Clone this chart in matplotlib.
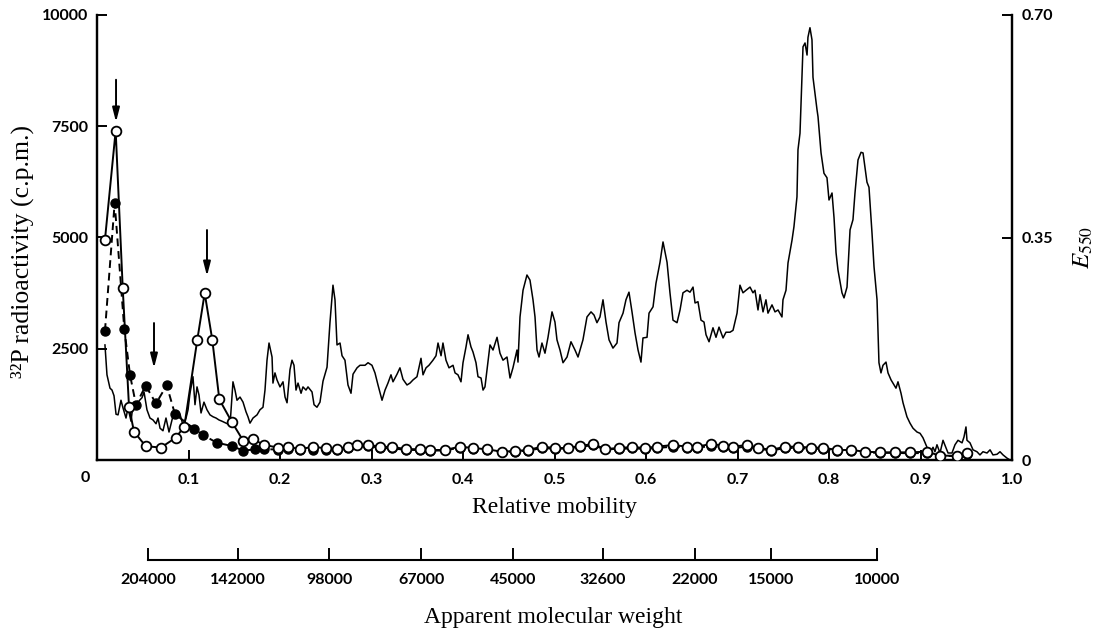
"""Gel scan: 32P radioactivity per slice (open / filled circles) with E550 densitometer trace."""

import matplotlib

matplotlib.use("Agg")
import matplotlib.pyplot as plt
import numpy as np

plt.rcParams["mathtext.fontset"] = "stix"

# --- open circles, solid line (c.p.m.)
mobility_open = [
    0.0087, 0.0204, 0.0281, 0.0350, 0.0404, 0.0532, 0.0699, 0.0860, 0.0954, 0.1096,
    0.1177, 0.1260, 0.1337, 0.1472, 0.1599, 0.1702, 0.1825, 0.1975, 0.2091, 0.2219,
    0.2361, 0.2503, 0.2623, 0.2743, 0.2842, 0.2962, 0.3093, 0.3224, 0.3377, 0.3530,
    0.3639, 0.3803, 0.3967, 0.4109, 0.4262, 0.4426, 0.4568, 0.4710, 0.4863, 0.5005,
    0.5148, 0.5279, 0.5421, 0.5552, 0.5705, 0.5847, 0.5989, 0.6120, 0.6295, 0.6448,
    0.6557, 0.6710, 0.6842, 0.6951, 0.7104, 0.7224, 0.7366, 0.7519, 0.7661, 0.7803,
    0.7934, 0.8087, 0.8240, 0.8393, 0.8557, 0.8721, 0.8885, 0.9071, 0.9213, 0.9399,
    0.9508,
]
cpm_open = [
    4950, 7400, 3870, 1190, 640, 310, 280, 500, 750, 2700,
    3750, 2700, 1360, 860, 430, 470, 340, 280, 300, 240,
    300, 260, 240, 292, 337, 337, 300, 292, 247, 240,
    225, 225, 300, 270, 240, 187, 202, 225, 300, 270,
    270, 315, 360, 247, 270, 292, 270, 300, 337, 300,
    300, 360, 322, 300, 337, 277, 225, 300, 300, 277,
    277, 225, 225, 187, 172, 172, 172, 187, 97, 97,
    150,
]

# --- filled circles, dashed line (c.p.m.)
mobility_filled = [
    0.0087, 0.0193, 0.0298, 0.0361, 0.0426, 0.0532, 0.0645, 0.0762, 0.0852, 0.1063,
    0.1160, 0.1308, 0.1472, 0.1599, 0.1727, 0.1825, 0.1975, 0.2091, 0.2219, 0.2361,
    0.2503, 0.2623, 0.2743, 0.2842, 0.2962, 0.3093, 0.3224, 0.3377, 0.3530, 0.3639,
    0.3803, 0.3967, 0.4109, 0.4262, 0.4426, 0.4568, 0.4710, 0.4863, 0.5005, 0.5148,
    0.5279, 0.5421, 0.5552, 0.5705, 0.5847, 0.5989, 0.6120, 0.6295, 0.6448, 0.6557,
    0.6710, 0.6842, 0.6951, 0.7104, 0.7224, 0.7366, 0.7519, 0.7661, 0.7803, 0.7934,
    0.8087, 0.8240, 0.8393, 0.8557, 0.8721, 0.8885, 0.9071, 0.9213, 0.9399, 0.9508,
]
cpm_filled = [
    2900, 5780, 2950, 1910, 1240, 1670, 1270, 1680, 1030, 700,
    560, 390, 315, 210, 240, 250, 230, 240, 220, 230,
    230, 220, 260, 330, 320, 270, 260, 230, 220, 210,
    215, 280, 250, 225, 180, 190, 210, 270, 250, 260,
    300, 330, 240, 250, 260, 250, 270, 300, 280, 280,
    310, 290, 270, 300, 260, 210, 270, 270, 250, 250,
    210, 210, 170, 160, 160, 150, 160, 90, 90, 130,
]

# --- E550 densitometer trace (right axis)
trace_mobility = [
    0.0087, 0.0109, 0.0142, 0.0164, 0.0186, 0.0208, 0.0230, 0.0262, 0.0284, 0.0317,
    0.0339, 0.0372, 0.0393, 0.0426, 0.0459, 0.0492, 0.0514, 0.0546, 0.0579, 0.0612,
    0.0645, 0.0667, 0.0689, 0.0721, 0.0754, 0.0787, 0.0820, 0.0842, 0.0874, 0.0907,
    0.0940, 0.0973, 0.0995, 0.1016, 0.1049, 0.1071, 0.1093, 0.1115, 0.1137, 0.1169,
    0.1202, 0.1235, 0.1268, 0.1301, 0.1333, 0.1366, 0.1410, 0.1454, 0.1486, 0.1508,
    0.1530, 0.1563, 0.1596, 0.1628, 0.1650, 0.1672, 0.1705, 0.1749, 0.1781, 0.1814,
    0.1836, 0.1858, 0.1880, 0.1913, 0.1923, 0.1945, 0.1967, 0.2000, 0.2033, 0.2055,
    0.2077, 0.2109, 0.2131, 0.2153, 0.2175, 0.2197, 0.2230, 0.2251, 0.2284, 0.2306,
    0.2350, 0.2372, 0.2404, 0.2437, 0.2470, 0.2514, 0.2546, 0.2579, 0.2601, 0.2623,
    0.2656, 0.2678, 0.2710, 0.2743, 0.2776, 0.2798, 0.2842, 0.2874, 0.2929, 0.2962,
    0.3005, 0.3038, 0.3071, 0.3115, 0.3148, 0.3180, 0.3213, 0.3235, 0.3279, 0.3311,
    0.3344, 0.3388, 0.3421, 0.3454, 0.3497, 0.3541, 0.3563, 0.3596, 0.3628, 0.3672,
    0.3705, 0.3727, 0.3760, 0.3781, 0.3814, 0.3847, 0.3891, 0.3913, 0.3945, 0.3978,
    0.4000, 0.4033, 0.4055, 0.4087, 0.4109, 0.4142, 0.4164, 0.4197, 0.4219, 0.4240,
    0.4262, 0.4295, 0.4328, 0.4372, 0.4404, 0.4437, 0.4481, 0.4514, 0.4546, 0.4590,
    0.4601, 0.4623, 0.4656, 0.4699, 0.4732, 0.4765, 0.4787, 0.4809, 0.4831, 0.4863,
    0.4896, 0.4929, 0.4973, 0.5005, 0.5027, 0.5060, 0.5093, 0.5137, 0.5180, 0.5224,
    0.5257, 0.5311, 0.5355, 0.5399, 0.5432, 0.5464, 0.5497, 0.5530, 0.5563, 0.5596,
    0.5639, 0.5683, 0.5705, 0.5749, 0.5781, 0.5814, 0.5847, 0.5880, 0.5913, 0.5945,
    0.5967, 0.6011, 0.6033, 0.6077, 0.6109, 0.6153, 0.6186, 0.6230, 0.6262, 0.6295,
    0.6339, 0.6372, 0.6404, 0.6448, 0.6481, 0.6514, 0.6536, 0.6568, 0.6601, 0.6634,
    0.6656, 0.6689, 0.6732, 0.6765, 0.6798, 0.6842, 0.6874, 0.6918, 0.6951, 0.6995,
    0.7027, 0.7060, 0.7093, 0.7137, 0.7169, 0.7191, 0.7224, 0.7246, 0.7279, 0.7311,
    0.7333, 0.7377, 0.7410, 0.7443, 0.7486, 0.7497, 0.7530, 0.7552, 0.7596, 0.7617,
    0.7650, 0.7661, 0.7683, 0.7716, 0.7738, 0.7760, 0.7770, 0.7792, 0.7814, 0.7825,
    0.7869, 0.7880, 0.7913, 0.7945, 0.7978, 0.8000, 0.8033, 0.8055, 0.8077, 0.8098,
    0.8142, 0.8164, 0.8197, 0.8230, 0.8262, 0.8284, 0.8317, 0.8350, 0.8372, 0.8415,
    0.8437, 0.8470, 0.8492, 0.8525, 0.8546, 0.8568, 0.8590, 0.8623, 0.8645, 0.8678,
    0.8699, 0.8732, 0.8754, 0.8787, 0.8809, 0.8852, 0.8885, 0.8918, 0.8962, 0.8995,
    0.9027, 0.9071, 0.9104, 0.9137, 0.9158, 0.9180, 0.9213, 0.9246, 0.9279, 0.9301,
    0.9344, 0.9377, 0.9410, 0.9454, 0.9475, 0.9497, 0.9508, 0.9541, 0.9574, 0.9617,
    0.9650, 0.9683, 0.9727, 0.9760, 0.9792, 0.9836, 0.9869, 0.9902, 0.9945, 0.9978,
]
trace_e550 = [
    0.181, 0.134, 0.113, 0.110, 0.101, 0.072, 0.071, 0.094, 0.082, 0.066,
    0.082, 0.061, 0.087, 0.082, 0.093, 0.098, 0.107, 0.079, 0.066, 0.063,
    0.057, 0.066, 0.050, 0.046, 0.066, 0.044, 0.063, 0.076, 0.066, 0.072,
    0.055, 0.066, 0.079, 0.105, 0.131, 0.087, 0.115, 0.102, 0.074, 0.091,
    0.079, 0.071, 0.068, 0.066, 0.063, 0.061, 0.058, 0.055, 0.123, 0.110,
    0.094, 0.099, 0.091, 0.076, 0.068, 0.058, 0.066, 0.071, 0.079, 0.083,
    0.110, 0.157, 0.184, 0.162, 0.121, 0.137, 0.126, 0.115, 0.123, 0.099,
    0.090, 0.142, 0.157, 0.149, 0.110, 0.121, 0.105, 0.115, 0.110, 0.115,
    0.107, 0.087, 0.083, 0.091, 0.124, 0.146, 0.216, 0.275, 0.252, 0.181,
    0.184, 0.164, 0.157, 0.118, 0.105, 0.135, 0.145, 0.149, 0.149, 0.153,
    0.149, 0.137, 0.118, 0.094, 0.110, 0.121, 0.134, 0.123, 0.135, 0.145,
    0.127, 0.118, 0.121, 0.126, 0.131, 0.160, 0.134, 0.145, 0.149, 0.157,
    0.164, 0.184, 0.164, 0.184, 0.157, 0.145, 0.149, 0.137, 0.134, 0.123,
    0.153, 0.178, 0.197, 0.178, 0.170, 0.153, 0.131, 0.129, 0.110, 0.115,
    0.142, 0.181, 0.173, 0.193, 0.168, 0.157, 0.162, 0.129, 0.145, 0.173,
    0.154, 0.225, 0.267, 0.291, 0.283, 0.252, 0.225, 0.173, 0.162, 0.184,
    0.168, 0.193, 0.233, 0.217, 0.189, 0.173, 0.153, 0.162, 0.186, 0.173,
    0.162, 0.189, 0.225, 0.233, 0.228, 0.216, 0.225, 0.252, 0.217, 0.189,
    0.176, 0.184, 0.216, 0.231, 0.252, 0.264, 0.233, 0.200, 0.173, 0.154,
    0.192, 0.193, 0.231, 0.241, 0.278, 0.311, 0.343, 0.311, 0.263, 0.220,
    0.216, 0.236, 0.263, 0.267, 0.264, 0.272, 0.247, 0.249, 0.220, 0.217,
    0.197, 0.186, 0.208, 0.193, 0.209, 0.192, 0.201, 0.201, 0.204, 0.231,
    0.275, 0.263, 0.267, 0.272, 0.263, 0.267, 0.236, 0.260, 0.233, 0.252,
    0.231, 0.244, 0.233, 0.236, 0.225, 0.252, 0.267, 0.310, 0.346, 0.367,
    0.414, 0.488, 0.514, 0.650, 0.656, 0.637, 0.665, 0.680, 0.661, 0.602,
    0.551, 0.540, 0.483, 0.451, 0.444, 0.409, 0.420, 0.381, 0.326, 0.299,
    0.263, 0.255, 0.272, 0.362, 0.378, 0.420, 0.472, 0.484, 0.483, 0.437,
    0.429, 0.357, 0.304, 0.252, 0.153, 0.137, 0.149, 0.154, 0.137, 0.126,
    0.121, 0.113, 0.123, 0.105, 0.090, 0.068, 0.058, 0.050, 0.044, 0.042,
    0.035, 0.020, 0.011, 0.020, 0.013, 0.024, 0.011, 0.031, 0.019, 0.011,
    0.011, 0.024, 0.031, 0.027, 0.036, 0.052, 0.031, 0.027, 0.016, 0.013,
    0.008, 0.013, 0.011, 0.016, 0.008, 0.009, 0.013, 0.008, 0.003, 0.000,
]

# arrows marking the bands: mobility, top and tip (c.p.m.)
arrow_mobility = [0.0208, 0.0623, 0.1202]
arrow_top = [8545, 3078, 5168]
arrow_tip = [7595, 2067, 4134]

mw_labels = ["204000", "142000", "98000", "67000", "45000", "32600", "22000", "15000", "10000"]
mw_positions = [0.0557, 0.1541, 0.2536, 0.3541, 0.4546, 0.5530, 0.6536, 0.7366, 0.8525]

W, H = 1104, 629
fig = plt.figure(figsize=(W / 100, H / 100), dpi=100)
ax_l, ax_b, ax_w, ax_h = 97 / W, 1 - 460 / H, 915 / W, 445 / H
ax = fig.add_axes([ax_l, ax_b, ax_w, ax_h])
ax2 = ax.twinx()

tick_font = dict(family="Lato", weight="bold", size=11.5)
label_font = dict(family="Liberation Serif", size=17)

# trace on the right axis
ax2.plot(trace_mobility, trace_e550, color="black", lw=1.1, zorder=1)
ax2.set_ylim(0, 0.70)
ax2.set_yticks([0, 0.35, 0.70])
ax2.set_yticklabels(["0", "0.35", "0.70"], fontdict=tick_font)
ax2.tick_params(axis="y", direction="in", length=7, width=1.4, pad=7)

ax.set_zorder(ax2.get_zorder() + 1)
ax.patch.set_visible(False)

ax.plot(mobility_filled, cpm_filled, color="black", lw=1.4, ls=(0, (4, 2.5)),
        marker="o", ms=6.5, mfc="black", mec="black", zorder=2)
ax.plot(mobility_open, cpm_open, color="black", lw=1.4, ls="-",
        marker="o", ms=7, mfc="white", mec="black", mew=1.3, zorder=3)

for xa, y0, y1 in zip(arrow_mobility, arrow_top, arrow_tip):
    ax.annotate("", xy=(xa, y1), xytext=(xa, y0),
                arrowprops=dict(arrowstyle="-|>,head_length=0.7,head_width=0.18",
                                color="black", lw=1.4, shrinkA=0, shrinkB=0,
                                mutation_scale=12))

ax.set_xlim(0, 1.0)
ax.set_ylim(0, 10000)
ax.set_xticks(np.arange(1, 11) / 10)
ax.set_xticklabels(["0.1", "0.2", "0.3", "0.4", "0.5", "0.6", "0.7", "0.8", "0.9", "1.0"],
                   fontdict=tick_font)
ax.set_yticks([2500, 5000, 7500, 10000])
ax.set_yticklabels(["2500", "5000", "7500", "10000"], fontdict=tick_font)
ax.tick_params(axis="both", direction="in", length=7, width=1.4)
ax.tick_params(axis="x", pad=9)
ax.tick_params(axis="y", pad=6)
ax.text(-0.013, -0.0415, "0", transform=ax.transAxes, ha="center", va="center", **tick_font)

for a in (ax, ax2):
    a.spines["top"].set_visible(False)
    for s in ("left", "right", "bottom"):
        a.spines[s].set_linewidth(1.6)

# molecular weight scale below
axm = fig.add_axes([ax_l, 1 - 560 / H, ax_w, 0.01])
axm.set_xlim(0, 1.0)
axm.patch.set_visible(False)
for s in ("top", "left", "right"):
    axm.spines[s].set_visible(False)
axm.spines["bottom"].set_bounds(mw_positions[0], mw_positions[-1])
axm.spines["bottom"].set_linewidth(1.5)
axm.set_yticks([])
axm.set_xticks(mw_positions)
axm.set_xticklabels(mw_labels, fontdict=tick_font)
axm.tick_params(axis="x", direction="in", length=9, width=1.4, pad=9)

fig.text(554 / W, 1 - 508 / H, "Relative mobility", ha="center", va="center", **label_font)
fig.text(553 / W, 1 - 617 / H, "Apparent molecular weight", ha="center", va="center", **label_font)
fig.text(22 / W, 1 - 252 / H, "³²P radioactivity (c.p.m.)", ha="center", va="center",
         rotation=90, family="Liberation Serif", size=18.5)
fig.text(1083 / W, 1 - 247 / H, r"$E_{550}$", ha="center", va="center", rotation=90,
         fontsize=18)

fig.savefig("out.png", dpi=100)
